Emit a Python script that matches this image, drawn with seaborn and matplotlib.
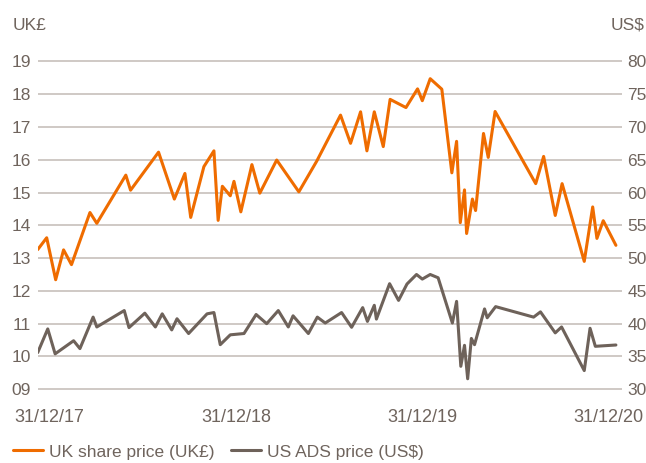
# share_price_chart.py

import pandas as pd
import matplotlib.pyplot as plt
import seaborn as sns

# UK share price (UK£)
uk_dates = ["2017-12-31", "2018-01-17", "2018-02-03", "2018-02-18", "2018-03-05",
            "2018-04-09", "2018-04-22", "2018-06-16", "2018-06-25", "2018-08-17",
            "2018-09-16", "2018-10-06", "2018-10-17", "2018-11-11", "2018-11-30",
            "2018-12-08", "2018-12-16", "2018-12-31", "2019-01-07", "2019-01-20",
            "2019-02-10", "2019-02-25", "2019-03-29", "2019-05-10", "2019-06-13",
            "2019-07-28", "2019-08-16", "2019-09-04", "2019-09-16", "2019-09-30",
            "2019-10-17", "2019-10-30", "2019-11-29", "2019-12-21", "2019-12-30",
            "2020-01-14", "2020-02-05", "2020-02-24", "2020-03-04", "2020-03-11",
            "2020-03-19", "2020-03-23", "2020-04-03", "2020-04-09", "2020-04-24",
            "2020-05-03", "2020-05-16", "2020-08-01", "2020-08-16", "2020-09-07",
            "2020-09-20", "2020-11-01", "2020-11-17", "2020-11-25", "2020-12-07",
            "2020-12-31"]
uk_price = [13.26, 13.62, 12.34, 13.25, 12.80,
            14.39, 14.06, 15.53, 15.07, 16.23,
            14.80, 15.58, 14.24, 15.79, 16.27,
            14.15, 15.19, 14.90, 15.34, 14.41,
            15.85, 14.98, 15.99, 15.02, 15.96,
            17.36, 16.50, 17.46, 16.27, 17.46,
            16.40, 17.84, 17.59, 18.16, 17.80,
            18.47, 18.15, 15.60, 16.56, 14.08,
            15.08, 13.75, 14.80, 14.45, 16.80,
            16.07, 17.47, 15.27, 16.10, 14.30,
            15.27, 12.90, 14.56, 13.60, 14.14,
            13.39]

# US ADS price (US$)
us_dates = ["2017-12-31", "2018-01-19", "2018-02-02", "2018-03-09", "2018-03-21",
            "2018-04-15", "2018-04-22", "2018-06-13", "2018-06-22", "2018-07-22",
            "2018-08-11", "2018-08-24", "2018-09-11", "2018-09-21", "2018-10-13",
            "2018-11-17", "2018-11-30", "2018-12-12", "2018-12-31", "2019-01-26",
            "2019-02-18", "2019-03-10", "2019-04-01", "2019-04-20", "2019-04-29",
            "2019-05-28", "2019-06-14", "2019-06-29", "2019-07-30", "2019-08-18",
            "2019-09-08", "2019-09-17", "2019-09-30", "2019-10-04", "2019-10-29",
            "2019-11-15", "2019-12-01", "2019-12-19", "2019-12-30", "2020-01-14",
            "2020-01-29", "2020-02-25", "2020-03-04", "2020-03-12", "2020-03-19",
            "2020-03-25", "2020-04-01", "2020-04-07", "2020-04-26", "2020-05-01",
            "2020-05-17", "2020-07-28", "2020-08-10", "2020-09-07", "2020-09-19",
            "2020-11-01", "2020-11-12", "2020-11-22", "2020-12-31"]
us_price = [35.6, 39.2, 35.4, 37.4, 36.2,
            41.0, 39.5, 42.0, 39.4, 41.6,
            39.5, 41.5, 39.05, 40.75, 38.5,
            41.5, 41.7, 36.8, 38.3, 38.5,
            41.4, 40.0, 42.0, 39.5, 41.2,
            38.5, 41.0, 40.1, 41.7, 39.45,
            42.45, 40.35, 42.8, 40.7, 46.1,
            43.55, 46.05, 47.5, 46.8, 47.5,
            47.0, 40.1, 43.4, 33.5, 36.7,
            31.6, 37.75, 36.8, 42.25, 40.9,
            42.6, 41.0, 41.8, 38.6, 39.5,
            32.85, 39.3, 36.55, 36.75]

x_tick_dates = ["2018-01-21", "2019-01-11", "2019-12-30", "2020-12-16"]
x_tick_labels = ["31/12/17", "31/12/18", "31/12/19", "31/12/20"]
uk_ticks = list(range(9, 20))
us_ticks = list(range(30, 81, 5))

sns.set_style("white")
plt.rcParams['font.family'] = ['Liberation Sans', 'DejaVu Sans']

ORANGE = "#ef6c00"
GREY = "#6e625a"
TEXT = "#6f645d"
GRID = "#cfc9c5"

uk_df = pd.DataFrame({"Date": pd.to_datetime(uk_dates), "Price": uk_price})
us_df = pd.DataFrame({"Date": pd.to_datetime(us_dates), "Price": us_price})

fig = plt.figure(figsize=(6.46, 4.63), dpi=100)
ax = fig.add_axes([0.0584, 0.1557, 0.9040, 0.7154])
ax2 = ax.twinx()

sns.lineplot(data=uk_df, x="Date", y="Price", ax=ax, color=ORANGE, lw=2.2,
             legend=False)
sns.lineplot(data=us_df, x="Date", y="Price", ax=ax2, color=GREY, lw=2.2,
             legend=False)

ax.set_xlim(pd.Timestamp("2017-12-31"), pd.Timestamp("2021-01-11"))
ax.set_ylim(8.95, 19.05)
ax2.set_ylim(29.75, 80.25)

ax.set_yticks(uk_ticks)
ax.set_yticklabels([f"{v:02d}" for v in uk_ticks])
ax2.set_yticks(us_ticks)
ax2.set_yticklabels([str(v) for v in us_ticks])
ax.set_xticks(pd.to_datetime(x_tick_dates))
ax.set_xticklabels(x_tick_labels)

ax.yaxis.grid(True, color=GRID, lw=1.4)
ax.xaxis.grid(False)
ax2.grid(False)
for a in (ax, ax2):
    a.set_xlabel("")
    a.set_ylabel("")
    for s in a.spines.values():
        s.set_visible(False)

ax.tick_params(axis='y', length=0, pad=5, labelsize=12.5, labelcolor=TEXT)
ax2.tick_params(axis='y', length=0, pad=4, labelsize=12.5, labelcolor=TEXT)
ax.tick_params(axis='x', length=0, pad=13, labelsize=13, labelcolor=TEXT)

fig.text(13 / 646, 1 - 25 / 463, "UK£", ha='left', va='center',
         fontsize=12.5, color=TEXT)
fig.text(644 / 646, 1 - 25 / 463, "US$", ha='right', va='center',
         fontsize=12.5, color=TEXT)

handles = [plt.Line2D([], [], color=ORANGE, lw=2.2),
           plt.Line2D([], [], color=GREY, lw=2.2)]
fig.legend(handles, ["UK share price (UK£)", "US ADS price (US$)"],
           loc='center left', bbox_to_anchor=(13 / 646, 1 - 452 / 463),
           ncol=2, frameon=False, fontsize=12.5, labelcolor=TEXT,
           handlelength=1.7, handletextpad=0.35, columnspacing=1.0,
           borderpad=0, borderaxespad=0)

plt.savefig("out.png", dpi=100)
plt.close()
